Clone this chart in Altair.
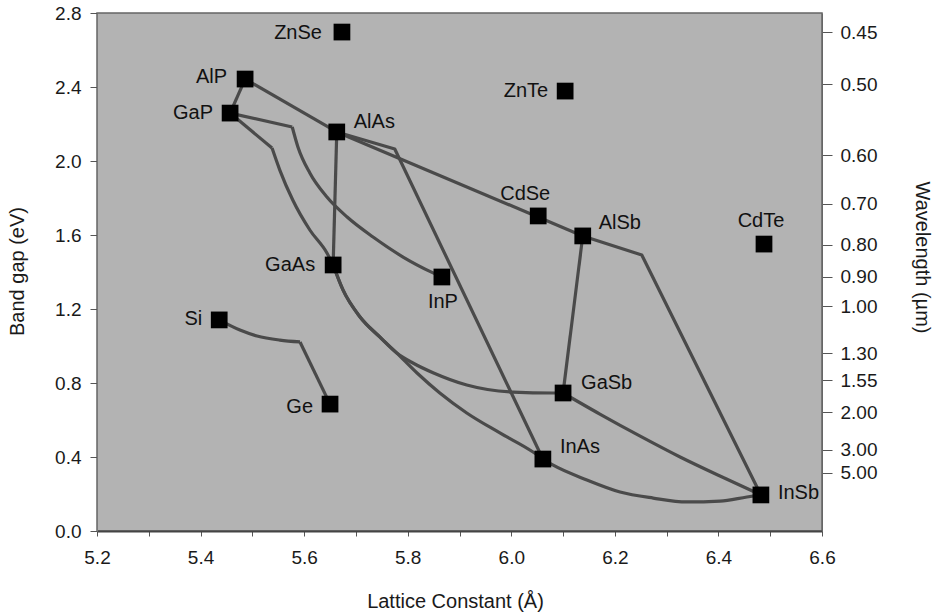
import altair as alt
import pandas as pd

# ---- compounds (markers) ----
compounds = ["ZnSe", "AlP", "GaP", "AlAs", "ZnTe", "CdSe", "AlSb", "CdTe",
             "GaAs", "InP", "Si", "GaSb", "Ge", "InAs", "InSb"]
lattice = [5.673, 5.486, 5.457, 5.663, 6.104, 6.052, 6.138, 6.488,
           5.656, 5.866, 5.436, 6.100, 5.650, 6.061, 6.482]
bandgap = [2.697, 2.443, 2.259, 2.157, 2.378, 1.703, 1.595, 1.551,
           1.438, 1.373, 1.141, 0.746, 0.686, 0.389, 0.195]

# ---- alloy lines: straight segments (lattice constant, band gap) ----
GeKink_x = [5.592, 5.650]
GeKink_y = [1.022, 0.686]
AlPGaP_x = [5.486, 5.457]
AlPGaP_y = [2.443, 2.259]
AlPAlAs_x = [5.486, 5.663]
AlPAlAs_y = [2.443, 2.157]
AlAsAlSb_x = [5.663, 6.138]
AlAsAlSb_y = [2.157, 1.595]
AlAsInAs_x = [5.663, 5.775, 6.061]
AlAsInAs_y = [2.157, 2.065, 0.389]
AlAsGaAs_x = [5.663, 5.656]
AlAsGaAs_y = [2.157, 1.438]
GaPInPStart_x = [5.457, 5.577]
GaPInPStart_y = [2.259, 2.184]
GaPGaAsStart_x = [5.457, 5.538]
GaPGaAsStart_y = [2.259, 2.070]
AlSbInSb_x = [6.138, 6.252, 6.482]
AlSbInSb_y = [1.595, 1.492, 0.195]
AlSbGaSb_x = [6.138, 6.100]
AlSbGaSb_y = [1.595, 0.746]

# ---- alloy lines: bowed curves ----
SiGe_x = [5.436, 5.476, 5.509, 5.553, 5.592]
SiGe_y = [1.141, 1.086, 1.054, 1.032, 1.022]
GaPInP_x = [5.577, 5.588, 5.611, 5.644, 5.683, 5.733, 5.791, 5.849, 5.866]
GaPInP_y = [2.184, 2.076, 1.935, 1.805, 1.697, 1.589, 1.481, 1.395, 1.373]
GaPGaAs_x = [5.538, 5.553, 5.578, 5.611, 5.644, 5.656]
GaPGaAs_y = [2.070, 1.951, 1.789, 1.627, 1.503, 1.438]
GaAsGaSb_x = [5.656, 5.675, 5.708, 5.746, 5.779, 5.810, 5.850, 5.914, 6.003, 6.080, 6.100]
GaAsGaSb_y = [1.438, 1.303, 1.157, 1.049, 0.962, 0.908, 0.854, 0.789, 0.751, 0.746, 0.746]
GaAsInAs_x = [5.656, 5.675, 5.708, 5.746, 5.779, 5.818, 5.862, 5.914, 5.978, 6.042, 6.061]
GaAsInAs_y = [1.438, 1.303, 1.157, 1.049, 0.962, 0.854, 0.746, 0.638, 0.530, 0.427, 0.389]
InAsInSb_x = [6.061, 6.080, 6.146, 6.210, 6.274, 6.339, 6.403, 6.455, 6.482]
InAsInSb_y = [0.389, 0.357, 0.276, 0.211, 0.178, 0.157, 0.162, 0.184, 0.195]
GaSbInSb_x = [6.100, 6.171, 6.248, 6.326, 6.403, 6.482]
GaSbInSb_y = [0.746, 0.632, 0.514, 0.400, 0.297, 0.195]

straight = {
    "GeKink": (GeKink_x, GeKink_y), "AlPGaP": (AlPGaP_x, AlPGaP_y),
    "AlPAlAs": (AlPAlAs_x, AlPAlAs_y), "AlAsAlSb": (AlAsAlSb_x, AlAsAlSb_y),
    "AlAsInAs": (AlAsInAs_x, AlAsInAs_y), "AlAsGaAs": (AlAsGaAs_x, AlAsGaAs_y),
    "GaPInPStart": (GaPInPStart_x, GaPInPStart_y),
    "GaPGaAsStart": (GaPGaAsStart_x, GaPGaAsStart_y),
    "AlSbInSb": (AlSbInSb_x, AlSbInSb_y), "AlSbGaSb": (AlSbGaSb_x, AlSbGaSb_y),
}
curved = {
    "SiGe": (SiGe_x, SiGe_y), "GaPInP": (GaPInP_x, GaPInP_y),
    "GaPGaAs": (GaPGaAs_x, GaPGaAs_y), "GaAsGaSb": (GaAsGaSb_x, GaAsGaSb_y),
    "GaAsInAs": (GaAsInAs_x, GaAsInAs_y), "InAsInSb": (InAsInSb_x, InAsInSb_y),
    "GaSbInSb": (GaSbInSb_x, GaSbInSb_y),
}

# ---- axis ticks ----
x_ticks = [5.2, 5.3, 5.4, 5.5, 5.6, 5.7, 5.8, 5.9, 6.0, 6.1, 6.2, 6.3, 6.4, 6.5, 6.6]
y_ticks = [0.0, 0.2, 0.4, 0.6, 0.8, 1.0, 1.2, 1.4, 1.6, 1.8, 2.0, 2.2, 2.4, 2.6, 2.8]
wl_labels = ["0.45", "0.50", "0.60", "0.70", "0.80", "0.90", "1.00",
             "1.30", "1.55", "2.00", "3.00", "5.00"]
wl_positions = [2.697, 2.416, 2.032, 1.768, 1.546, 1.373, 1.216,
                0.962, 0.816, 0.643, 0.438, 0.314]

# ---- label placement (style) ----
label_place = {
    "ZnSe": (-20, 1, "right"), "AlP": (-18, -2, "right"), "GaP": (-17, 0, "right"),
    "AlAs": (17, -10, "left"), "ZnTe": (-17, 0, "right"), "CdSe": (-13, -22, "center"),
    "AlSb": (16, -13, "left"), "CdTe": (-3, -23, "center"), "GaAs": (-18, 0, "right"),
    "InP": (1, 25, "center"), "Si": (-17, -1, "right"), "GaSb": (18, -10, "left"),
    "Ge": (-17, 3, "right"), "InAs": (17, -12, "left"), "InSb": (17, -2, "left"),
}

FONT = "Liberation Sans"
LINE_COLOR = "#4a4a4a"


def to_df(d):
    rows = []
    for cname, (xs, ys) in d.items():
        for i, (xv, yv) in enumerate(zip(xs, ys)):
            rows.append({"curve": cname, "order": i, "a": xv, "eg": yv})
    return pd.DataFrame(rows)


pts = pd.DataFrame({"name": compounds, "a": lattice, "eg": bandgap})

xscale = alt.Scale(domain=[5.2, 6.6], nice=False, zero=False)
yscale = alt.Scale(domain=[0, 2.8], nice=False, zero=False)

xaxis = alt.Axis(
    title="Lattice Constant (Å)", values=x_ticks,
    labelExpr="(round(datum.value*10) % 2 == 0) ? format(datum.value, '.1f') : ''",
    grid=False, tickSize=5, tickColor="#555", domainColor="#444", domainWidth=2,
    labelPadding=12, labelFlush=False, labelOverlap=False,
    titleX=358, titleY=76, titleBaseline="alphabetic", titleAlign="center",
)
yaxis = alt.Axis(
    title="Band gap (eV)", values=y_ticks,
    labelExpr="(round(datum.value*10) % 4 == 0) ? format(datum.value, '.1f') : ''",
    grid=False, tickSize=7, tickColor="#555", domainColor="#777", domainWidth=1,
    labelPadding=9, labelFlush=False, labelOverlap=False,
    titleX=-80, titleY=258, titleBaseline="middle", titleAlign="center", titleAngle=-90,
)

lines_straight = alt.Chart(to_df(straight)).mark_line(
    color=LINE_COLOR, strokeWidth=3.2, strokeJoin="round"
).encode(
    x=alt.X("a:Q", scale=xscale, axis=xaxis),
    y=alt.Y("eg:Q", scale=yscale, axis=yaxis),
    detail="curve:N", order="order:Q",
)
lines_curved = alt.Chart(to_df(curved)).mark_line(
    color=LINE_COLOR, strokeWidth=3.2, interpolate="monotone"
).encode(
    x=alt.X("a:Q", scale=xscale), y=alt.Y("eg:Q", scale=yscale),
    detail="curve:N", order="order:Q",
)

markers = alt.Chart(pts).mark_point(shape="square", filled=True, color="black",
                                     opacity=1, size=280).encode(
    x=alt.X("a:Q", scale=xscale), y=alt.Y("eg:Q", scale=yscale)
)

text_layers = []
for name in compounds:
    dx, dy, al = label_place[name]
    text_layers.append(
        alt.Chart(pts).transform_filter(alt.datum.name == name).mark_text(
            dx=dx, dy=dy, align=al, baseline="middle", font=FONT, fontSize=20,
            color="#111"
        ).encode(x=alt.X("a:Q", scale=xscale), y=alt.Y("eg:Q", scale=yscale),
                 text="name:N")
    )

left = alt.layer(lines_straight, lines_curved, markers, *text_layers)

wl_df = pd.DataFrame({"pos": wl_positions})
pos_list = ",".join(str(v) for v in wl_positions)
lab_list = ",".join("'" + s + "'" for s in wl_labels)
right_axis = alt.Axis(
    orient="right", title="Wavelength (µm)", values=wl_positions,
    labelExpr="[" + lab_list + "][indexof([" + pos_list + "], datum.value)]",
    grid=False, tickSize=10, tickColor="#555", domainColor="#666",
    labelPadding=8, labelFlush=False, labelOverlap=False,
    titleX=99, titleY=244, titleBaseline="middle", titleAlign="center", titleAngle=90,
)
right = alt.Chart(wl_df).mark_point(opacity=0).encode(
    y=alt.Y("pos:Q", scale=alt.Scale(domain=[0, 2.8], nice=False, zero=False),
            axis=right_axis)
)

chart = alt.layer(left, right).resolve_scale(y="independent").properties(
    width=725, height=518,
    autosize=alt.AutoSizeParams(type="none"),
    padding={"left": 97, "top": 13, "right": 112, "bottom": 83},
    background="white",
).configure_view(
    fill="#b3b3b3", stroke="#666", strokeWidth=1.5
).configure_axis(
    labelFont=FONT, labelFontSize=19, labelColor="#1a1a1a",
    titleFont=FONT, titleFontSize=20, titleFontWeight="normal", titleColor="#1a1a1a",
)

chart.save("out.html", embed_options={"renderer": "svg", "actions": False})
